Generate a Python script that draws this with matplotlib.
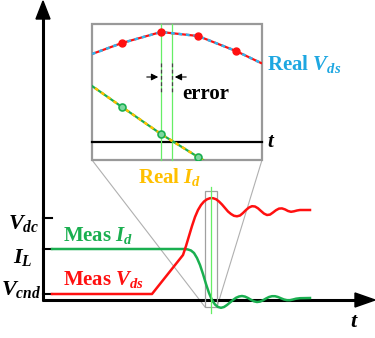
import matplotlib
matplotlib.use('Agg')
import matplotlib.pyplot as plt
from matplotlib.patches import Rectangle, Polygon

plt.rcParams['font.family'] = ['Liberation Serif', 'DejaVu Serif']
plt.rcParams['font.weight'] = 'bold'
plt.rcParams['mathtext.fontset'] = 'custom'
plt.rcParams['mathtext.rm'] = 'Liberation Serif:bold'
plt.rcParams['mathtext.it'] = 'Liberation Serif:italic:bold'

# schematic coordinates (picture units, y grows downward)
meas_vds_x = [52, 152, 183, 186, 189, 192, 195, 198, 201, 204, 207, 210, 213, 216, 219, 222,
              225, 228, 231, 234, 237, 240, 243, 246, 249, 252, 255, 258, 261, 264, 267, 270,
              273, 276, 279, 282, 285, 288, 291, 294, 297, 300, 310]
meas_vds_y = [294, 294, 255, 246, 236, 226, 217, 210, 205, 201.5, 199.3, 198.2, 198.2, 199.2,
              201.5, 204.5, 208, 211.5, 214, 215.8, 216.3, 215.5, 213, 210, 207.5, 206.2, 206.5,
              208.3, 211, 213.6, 215, 214.6, 212.5, 210.2, 208.6, 208.4, 209.4, 211, 211.8,
              211.3, 210.5, 210, 210]
meas_id_x = [52, 185, 188, 191, 194, 197, 200, 203, 206, 209, 212, 215, 218, 221, 224, 227,
             230, 233, 236, 239, 242, 245, 248, 251, 254, 257, 260, 263, 266, 269, 272, 275,
             278, 281, 284, 287, 290, 293, 296, 300, 310]
meas_id_y = [249, 249, 249.5, 250.5, 253, 258, 265, 274, 284, 293, 300, 304.5, 307, 307.8,
             307, 305, 302.5, 300, 297.8, 296.5, 296, 296.6, 298, 299.8, 301.3, 302, 301.6,
             300.3, 298.5, 297, 296.2, 296.2, 297, 298.3, 299.5, 300.2, 300.2, 299.5, 298.7,
             298.2, 298]

# zoomed inset samples
real_vds_x = [92, 122, 161, 198, 236, 261]
real_vds_y = [54, 43, 32, 36, 51, 63]
real_id_x = [92, 122, 161, 198, 203]
real_id_y = [86, 107, 134, 157, 160]

tick_y = {'$V_{dc}$': 218, '$I_L$': 249, '$V_{cnd}$': 294}

fig = plt.figure(figsize=(3.75, 3.38), dpi=100)
ax = fig.add_axes([0, 0, 1, 1])
ax.set_xlim(0, 375); ax.set_ylim(338, 0); ax.axis('off')

# main axes with arrows
ax.plot([43, 43], [15, 301], color='black', lw=2.2, solid_capstyle='butt')
ax.plot([42, 358], [300, 300], color='black', lw=2.2, solid_capstyle='butt')
ax.add_patch(Polygon([[43, 1], [36, 19], [50, 19]], closed=True, color='black'))
ax.add_patch(Polygon([[375, 300], [355, 293], [355, 307]], closed=True, color='black'))
for y in tick_y.values():
    ax.plot([43, 52], [y, y], color='black', lw=1.5)

ax.text(39, 224, '$V_{dc}$', fontsize=16, ha='right', va='center')
ax.text(23, 257, '$I_L$', fontsize=16, ha='center', va='center')
ax.text(41, 289, '$V_{cnd}$', fontsize=16, ha='right', va='center')
ax.text(354, 322, '$t$', fontsize=16, ha='center', va='center')

# measured waveforms
ax.plot(meas_id_x, meas_id_y, color='#1aaf50', lw=1.8, zorder=3)
ax.plot(meas_vds_x, meas_vds_y, color='#ff1010', lw=1.8, zorder=3)
ax.text(63, 236, 'Meas $I_d$', fontsize=15, color='#1aaf50', va='center')
ax.text(63, 279, 'Meas $V_{ds}$', fontsize=15, color='#ff1010', va='center')

# small zoom window and projection lines
ax.add_patch(Rectangle((205, 191), 12, 116, fill=False, ec='#a0a0a0', lw=0.9, zorder=2))
ax.plot([211, 211], [187, 313], color='#66ee66', lw=0.9, zorder=4)
ax.plot([92, 205], [160, 307], color='#b0b0b0', lw=0.8, zorder=1)
ax.plot([262, 217], [160, 307], color='#b0b0b0', lw=0.8, zorder=1)

# inset
ax.add_patch(Rectangle((92, 24), 170, 136, fill=True, fc='white', ec='#999999', lw=1.6, zorder=2))
clip = Rectangle((92, 24), 170, 136, transform=ax.transData)
ax.plot([92, 262], [142, 142], color='black', lw=1.6, zorder=3)
for x in (161, 172):
    ax.plot([x, x], [24, 160], color='#66ee66', lw=0.9, zorder=3)
    ax.plot([x, x], [63, 93], color='#444444', lw=0.9, ls=(0, (3, 2)), zorder=3)
ax.annotate('', xy=(161, 77), xytext=(144, 77),
            arrowprops=dict(arrowstyle='-|>', color='black', lw=0.8, mutation_scale=10), zorder=5)
ax.annotate('', xy=(172, 77), xytext=(189, 77),
            arrowprops=dict(arrowstyle='-|>', color='black', lw=0.8, mutation_scale=10), zorder=5)
ax.text(182, 94, 'error', fontsize=15, color='black', va='center')
ax.text(267, 142, '$t$', fontsize=15, va='center')

l1, = ax.plot(real_vds_x, real_vds_y, color='#ff1010', lw=1.6, zorder=4)
l2, = ax.plot(real_vds_x, real_vds_y, color='#33b5ee', lw=1.8, ls=(0, (1.5, 1.5)), zorder=5)
m1, = ax.plot(real_vds_x[1:-1], real_vds_y[1:-1], 'o', color='#ff1010', ms=5, zorder=6)
l3, = ax.plot(real_id_x, real_id_y, color='#1aaf50', lw=1.6, zorder=4)
l4, = ax.plot(real_id_x, real_id_y, color='#ffc000', lw=1.8, ls=(1.5, (1.5, 1.5)), zorder=5)
m2, = ax.plot(real_id_x[1:-1], real_id_y[1:-1], 'o', mfc='#7fd7a0', mec='#1aaf50', mew=1.2, ms=5, zorder=6)
for a in (l1, l2, m1, l3, l4, m2):
    a.set_clip_path(clip)

ax.text(267, 64, 'Real $V_{ds}$', fontsize=15, color='#1ea7e1', va='center')
ax.text(138, 177, 'Real $I_d$', fontsize=15, color='#ffc000', va='center')

plt.savefig('out.png', dpi=100, facecolor='white')
